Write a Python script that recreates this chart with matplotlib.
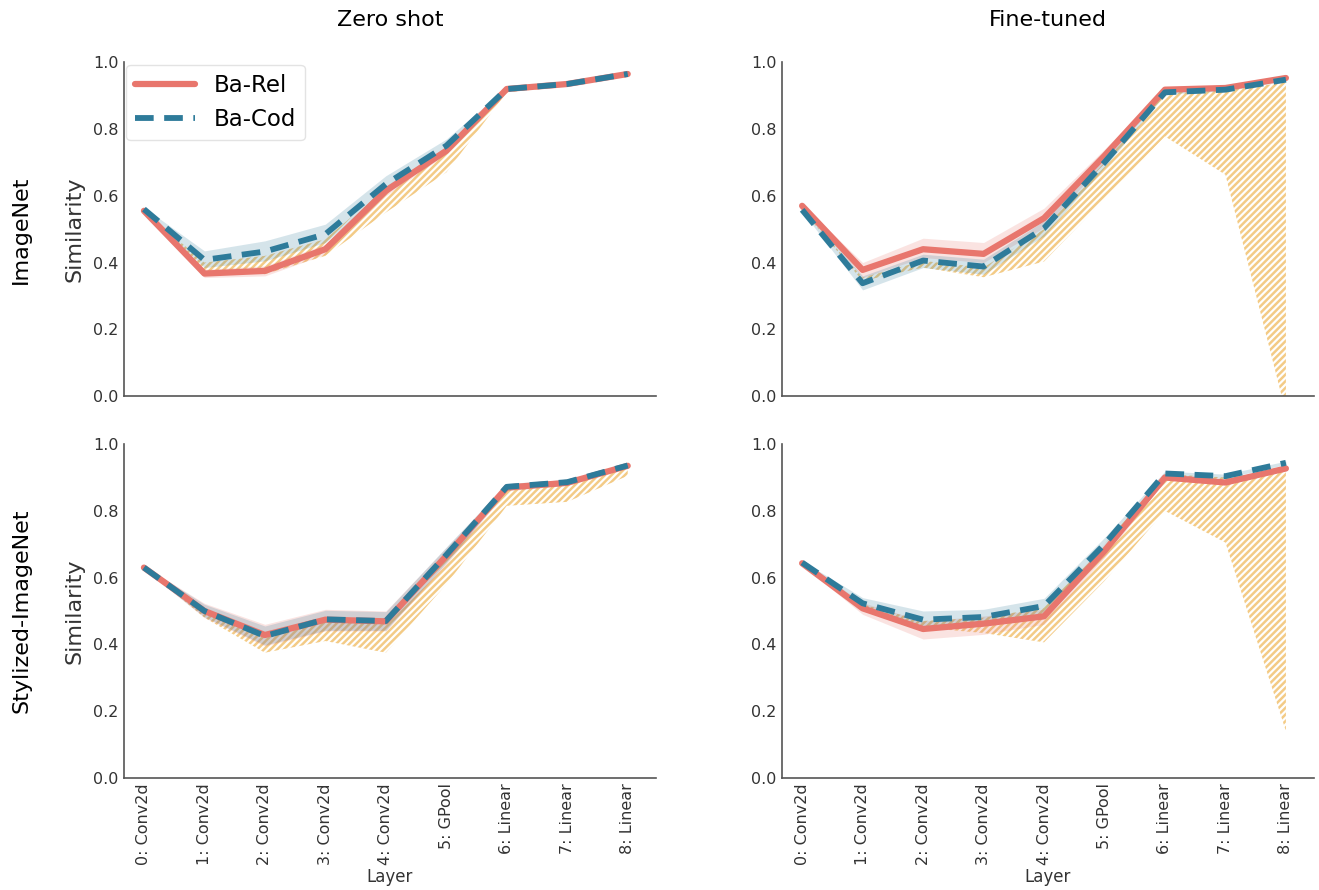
import numpy as np
import matplotlib
matplotlib.use("Agg")
import matplotlib.pyplot as plt

layers = ["0: Conv2d", "1: Conv2d", "2: Conv2d", "3: Conv2d", "4: Conv2d",
          "5: GPool", "6: Linear", "7: Linear", "8: Linear"]
col_titles = ["Zero shot", "Fine-tuned"]
row_titles = ["ImageNet", "Stylized-ImageNet"]

# --- Zero shot / ImageNet
zs_in_rel = [0.555, 0.367, 0.375, 0.44, 0.615, 0.735, 0.92, 0.935, 0.965]
zs_in_rel_lo = [0.550, 0.355, 0.360, 0.425, 0.600, 0.725, 0.915, 0.932, 0.962]
zs_in_rel_hi = [0.560, 0.380, 0.390, 0.455, 0.630, 0.745, 0.925, 0.938, 0.968]
zs_in_cod = [0.560, 0.408, 0.433, 0.485, 0.635, 0.750, 0.920, 0.935, 0.965]
zs_in_cod_lo = [0.555, 0.385, 0.405, 0.460, 0.615, 0.735, 0.915, 0.932, 0.962]
zs_in_cod_hi = [0.565, 0.435, 0.465, 0.515, 0.660, 0.770, 0.925, 0.938, 0.968]
zs_in_h_lo = [0.555, 0.375, 0.365, 0.420, 0.550, 0.670, 0.910, 0.928, 0.960]
zs_in_h_hi = [0.555, 0.400, 0.420, 0.470, 0.625, 0.745, 0.920, 0.935, 0.965]

# --- Fine-tuned / ImageNet
ft_in_rel = [0.570, 0.378, 0.440, 0.426, 0.533, 0.720, 0.918, 0.923, 0.953]
ft_in_rel_lo = [0.565, 0.355, 0.415, 0.400, 0.505, 0.700, 0.912, 0.918, 0.950]
ft_in_rel_hi = [0.575, 0.400, 0.473, 0.460, 0.563, 0.740, 0.924, 0.928, 0.956]
ft_in_cod = [0.558, 0.338, 0.406, 0.388, 0.503, 0.700, 0.910, 0.918, 0.948]
ft_in_cod_lo = [0.553, 0.318, 0.385, 0.365, 0.480, 0.685, 0.905, 0.914, 0.945]
ft_in_cod_hi = [0.563, 0.360, 0.425, 0.410, 0.525, 0.715, 0.915, 0.922, 0.951]
ft_in_h_lo = [0.558, 0.345, 0.385, 0.356, 0.403, 0.590, 0.778, 0.663, -0.05]
ft_in_h_hi = [0.558, 0.355, 0.405, 0.385, 0.500, 0.700, 0.910, 0.915, 0.940]

# --- Zero shot / Stylized-ImageNet
zs_sin_rel = [0.630, 0.500, 0.428, 0.474, 0.469, 0.665, 0.870, 0.884, 0.935]
zs_sin_rel_lo = [0.625, 0.480, 0.395, 0.440, 0.440, 0.640, 0.860, 0.876, 0.930]
zs_sin_rel_hi = [0.635, 0.523, 0.460, 0.505, 0.500, 0.690, 0.880, 0.892, 0.940]
zs_sin_cod = [0.630, 0.500, 0.425, 0.475, 0.470, 0.668, 0.872, 0.886, 0.936]
zs_sin_cod_lo = [0.625, 0.482, 0.398, 0.442, 0.442, 0.645, 0.862, 0.878, 0.931]
zs_sin_cod_hi = [0.635, 0.520, 0.455, 0.502, 0.498, 0.692, 0.882, 0.894, 0.941]
zs_sin_h_lo = [0.630, 0.480, 0.375, 0.410, 0.375, 0.580, 0.815, 0.827, 0.905]
zs_sin_h_hi = [0.630, 0.500, 0.425, 0.470, 0.465, 0.660, 0.865, 0.880, 0.930]

# --- Fine-tuned / Stylized-ImageNet
ft_sin_rel = [0.643, 0.508, 0.446, 0.462, 0.484, 0.680, 0.900, 0.885, 0.927]
ft_sin_rel_lo = [0.638, 0.490, 0.416, 0.430, 0.460, 0.660, 0.892, 0.878, 0.922]
ft_sin_rel_hi = [0.648, 0.525, 0.470, 0.485, 0.505, 0.700, 0.908, 0.892, 0.932]
ft_sin_cod = [0.645, 0.523, 0.474, 0.482, 0.515, 0.700, 0.912, 0.904, 0.944]
ft_sin_cod_lo = [0.640, 0.505, 0.450, 0.460, 0.492, 0.680, 0.905, 0.898, 0.939]
ft_sin_cod_hi = [0.650, 0.540, 0.500, 0.505, 0.538, 0.720, 0.919, 0.910, 0.949]
ft_sin_h_lo = [0.643, 0.510, 0.450, 0.434, 0.406, 0.590, 0.800, 0.705, 0.140]
ft_sin_h_hi = [0.645, 0.520, 0.470, 0.480, 0.510, 0.700, 0.910, 0.900, 0.920]

panels = [
    [(zs_in_rel, zs_in_rel_lo, zs_in_rel_hi, zs_in_cod, zs_in_cod_lo, zs_in_cod_hi, zs_in_h_lo, zs_in_h_hi),
     (ft_in_rel, ft_in_rel_lo, ft_in_rel_hi, ft_in_cod, ft_in_cod_lo, ft_in_cod_hi, ft_in_h_lo, ft_in_h_hi)],
    [(zs_sin_rel, zs_sin_rel_lo, zs_sin_rel_hi, zs_sin_cod, zs_sin_cod_lo, zs_sin_cod_hi, zs_sin_h_lo, zs_sin_h_hi),
     (ft_sin_rel, ft_sin_rel_lo, ft_sin_rel_hi, ft_sin_cod, ft_sin_cod_lo, ft_sin_cod_hi, ft_sin_h_lo, ft_sin_h_hi)],
]

rel_color = "#e8766d"
cod_color = "#2e7b9a"
hatch_color = "#f2c271"

plt.rcParams['hatch.linewidth'] = 1.8
fig = plt.figure(figsize=(13.19, 8.9), dpi=100)

lefts = [0.094, 0.593]
bottoms = [0.555, 0.126]
w = 0.403
h = 0.375
x = np.arange(len(layers))

for r in range(2):
    for c in range(2):
        rel, rel_lo, rel_hi, cod, cod_lo, cod_hi, h_lo, h_hi = panels[r][c]
        ax = fig.add_axes([lefts[c], bottoms[r], w, h])

        # hatched range
        ax.fill_between(x, h_lo, h_hi, facecolor="none", edgecolor=hatch_color,
                        hatch="/////", linewidth=0, alpha=0.85)
        ax.fill_between(x, rel_lo, rel_hi, color=rel_color, alpha=0.2, linewidth=0)
        ax.fill_between(x, cod_lo, cod_hi, color=cod_color, alpha=0.2, linewidth=0)

        ax.plot(x, rel, color=rel_color, lw=4.5, solid_capstyle="round", label="Ba-Rel")
        ax.plot(x, cod, color=cod_color, lw=4.2, dashes=(3.2, 1.8), label="Ba-Cod")

        ax.set_ylim(0, 1.0)
        ax.set_xlim(-0.33, 8.46)
        ax.set_yticks([0, 0.2, 0.4, 0.6, 0.8, 1.0])
        ax.tick_params(axis="both", labelsize=11.5, colors="#333333", length=0, pad=4)
        ax.spines["top"].set_visible(False)
        ax.spines["right"].set_visible(False)
        for s in ["left", "bottom"]:
            ax.spines[s].set_color("#555555")
            ax.spines[s].set_linewidth(1.2)
        ax.set_xticks(x)
        if r == 1:
            ax.set_xticklabels(layers, rotation=90, fontsize=11.5)
            ax.set_xlabel("Layer", fontsize=12, color="#333333", labelpad=2)
        else:
            ax.set_xticklabels([])
            ax.set_title(col_titles[c], fontsize=16, pad=26)
        if c == 0:
            ax.set_ylabel("Similarity", fontsize=16, color="#333333", labelpad=6)
        if r == 0 and c == 0:
            leg = ax.legend(loc="upper left", fontsize=16.5, handlelength=2.6,
                            frameon=True, borderaxespad=0.1)
            leg.get_frame().set_edgecolor("#dddddd")

fig.text(0.016, 0.742, row_titles[0], rotation=90, fontsize=16, va="center", ha="center")
fig.text(0.016, 0.314, row_titles[1], rotation=90, fontsize=16, va="center", ha="center")

fig.savefig("out.png", dpi=100)
